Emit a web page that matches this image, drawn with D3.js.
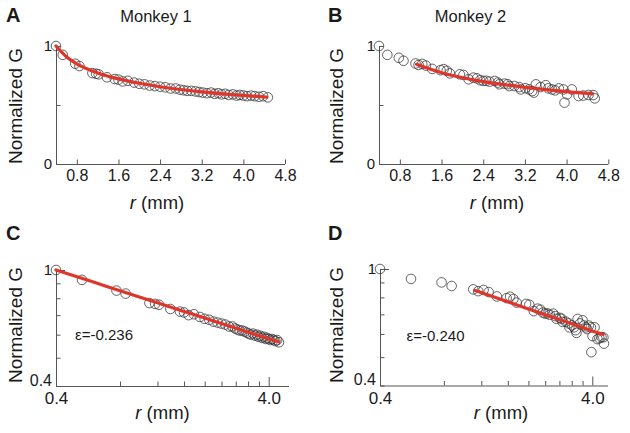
<!DOCTYPE html>
<html><head><meta charset="utf-8">
<script src="https://cdn.jsdelivr.net/npm/d3@7"></script>
<style>
body{margin:0;background:#fff}
svg{display:block}
text{font-family:"Liberation Sans",Arial,sans-serif;fill:#1a1a1a}
</style>
</head><body>
<svg id="c" width="630" height="433"></svg>
<script>
// ---------- data ----------
const m1R = [0.40,0.53,0.77,0.85,1.10,1.17,1.22,1.38,1.53,1.60,1.68,1.78,1.90,2.00,2.10,2.20,2.30,2.40,2.50,2.60,2.70,2.78,2.85,2.92,3.00,3.08,3.15,3.22,3.30,3.38,3.45,3.52,3.58,3.65,3.72,3.80,3.87,3.93,4.00,4.07,4.15,4.22,4.30,4.38,4.47];
const m1G = [1.00,0.925,0.85,0.83,0.77,0.765,0.76,0.735,0.72,0.715,0.70,0.705,0.69,0.68,0.675,0.665,0.66,0.655,0.65,0.64,0.64,0.63,0.625,0.62,0.62,0.615,0.61,0.605,0.60,0.605,0.595,0.60,0.59,0.595,0.585,0.59,0.58,0.585,0.58,0.575,0.58,0.575,0.57,0.575,0.565];
const m1FitR = [0.40,0.60,0.80,1.20,1.60,2.00,2.40,3.20,4.00,4.45];
const m1FitG = [1.00,0.909,0.849,0.772,0.721,0.684,0.655,0.612,0.581,0.567];

const m2R = [0.40,0.56,0.78,0.87,1.10,1.16,1.23,1.30,1.42,1.58,1.64,1.70,1.76,1.95,2.02,2.12,2.21,2.28,2.34,2.40,2.46,2.52,2.62,2.68,2.71,2.81,2.87,2.90,3.00,3.09,3.12,3.21,3.28,3.34,3.37,3.41,3.50,3.60,3.65,3.72,3.78,3.85,3.94,3.96,4.01,4.10,4.23,4.32,4.42,4.51,4.54];
const m2G = [1.00,0.925,0.90,0.875,0.852,0.84,0.848,0.834,0.806,0.795,0.804,0.79,0.768,0.76,0.755,0.718,0.732,0.726,0.71,0.704,0.705,0.698,0.704,0.69,0.676,0.681,0.676,0.66,0.661,0.652,0.632,0.642,0.632,0.618,0.605,0.675,0.652,0.668,0.641,0.632,0.624,0.641,0.632,0.52,0.59,0.632,0.576,0.58,0.585,0.584,0.556];
const m2FitR = [1.12,1.60,2.40,3.20,4.00,4.50];
const m2FitG = [0.845,0.773,0.698,0.650,0.614,0.597];

const linXTicks = [0.8,1.6,2.4,3.2,4.0,4.8];
const linXLabels = ["0.8","1.6","2.4","3.2","4.0","4.8"];
const linYTicks = [0,0.5,1];
const linYLabels = ["0","","1"];
const logXTicks = [0.4,0.8,1.2,1.6,2.0,2.4,2.8,3.2,3.6,4.0];
const logXLabels = ["0.4","","","","","","","","","4.0"];
const logYTicks = [0.4,0.5,0.6,0.7,0.8,0.9,1.0];
const logYLabels = ["0.4","","","","","","1"];
const letters = ["A","B","C","D"];
const titles = ["Monkey 1","Monkey 2"];
const epsLabels = ["ε=-0.236","ε=-0.240"];

// ---------- drawing ----------
const svg = d3.select("#c");
const RED = "#e0352b", AX = "#555";

function panel(o){
  const g = svg.append("g");
  const x = (o.log ? d3.scaleLog() : d3.scaleLinear()).domain(o.xd).range(o.xr);
  const y = (o.log ? d3.scaleLog() : d3.scaleLinear()).domain(o.yd).range(o.yr);
  // x axis
  const xa = g.append("g").attr("transform",`translate(0,${o.yr[0]})`)
    .call(d3.axisBottom(x).tickValues(o.xt).tickFormat((d,i)=>o.xl[i]).tickSize(-4.5).tickPadding(6));
  xa.select(".domain").remove();
  xa.selectAll("line").attr("stroke",AX);
  xa.selectAll("text").style("font-size",o.xfs+"px").attr("fill","#1a1a1a");
  if(o.log){ xa.selectAll(".tick line").filter((d,i)=>o.xl[i]!=="").attr("y2",-9); }
  g.append("line").attr("x1",o.xr[0]).attr("x2",o.xEnd).attr("y1",o.yr[0]+0.5).attr("y2",o.yr[0]+0.5).attr("stroke",AX);
  // y axis
  const ya = g.append("g").attr("transform",`translate(${o.xr[0]},0)`)
    .call(d3.axisLeft(y).tickValues(o.yt).tickFormat((d,i)=>o.yl[i]).tickSize(-4.5).tickPadding(4));
  ya.select(".domain").remove();
  ya.selectAll("line").attr("stroke",AX);
  ya.selectAll("text").style("font-size",o.yfs+"px").attr("fill","#1a1a1a");
  if(o.log){
    ya.selectAll(".tick line").filter((d,i)=>o.yl[i]==="1").attr("x2",9);
    ya.selectAll(".tick text").filter((d,i)=>o.yl[i]==="0.4").attr("dy","-0.05em").style("font-size","16px");
  }
  g.append("line").attr("x1",o.xr[0]+0.5).attr("x2",o.xr[0]+0.5).attr("y1",o.yr[1]).attr("y2",o.yr[0]).attr("stroke",AX);
  // points
  g.append("g").selectAll("circle").data(o.r.map((r,i)=>[r,o.gv[i]])).join("circle")
    .attr("cx",d=>x(d[0])).attr("cy",d=>y(d[1])).attr("r",4.8)
    .attr("fill","none").attr("stroke","#333").attr("stroke-width",0.9).attr("stroke-opacity",0.85);
  // fit
  g.append("path").datum(o.fr.map((r,i)=>[r,o.fg[i]]))
    .attr("d",d3.line().x(d=>x(d[0])).y(d=>y(d[1])).curve(d3.curveMonotoneX))
    .attr("fill","none").attr("stroke",RED).attr("stroke-width",3.2).attr("stroke-linecap","round");
  // labels
  g.append("text").attr("x",o.lx).attr("y",o.ly).text(o.letter)
    .style("font-size","20px").style("font-weight","bold").attr("fill","#000");
  if(o.title) g.append("text").attr("x",o.tx).attr("y",22).attr("text-anchor","middle")
    .style("font-size","16.5px").text(o.title);
  g.append("text").attr("transform",`translate(${o.yx},${o.ycy}) rotate(-90)`)
    .attr("text-anchor","middle").style("font-size","19px").text("Normalized G");
  const xt = g.append("text").attr("x",o.xlx).attr("y",o.xly).attr("text-anchor","middle").style("font-size","18.5px");
  xt.append("tspan").style("font-style","italic").text("r");
  xt.append("tspan").text(" (mm)");
  if(o.eps) g.append("text").attr("x",o.ex).attr("y",o.ey).style("font-size","15px").text(o.eps);
}

panel({log:false,xd:[0.4,4.8],xr:[56,285],xEnd:285,yd:[0,1],yr:[164,46],xt:linXTicks,xl:linXLabels,yt:linYTicks,yl:linYLabels,
  xfs:16,yfs:15,r:m1R,gv:m1G,fr:m1FitR,fg:m1FitG,letter:letters[0],lx:6,ly:22,title:titles[0],tx:156,
  yx:21.5,ycy:106,xlx:157,xly:209});
panel({log:false,xd:[0.4,4.8],xr:[379,608.3],xEnd:608.3,yd:[0,1],yr:[164,46],xt:linXTicks,xl:linXLabels,yt:linYTicks,yl:linYLabels,
  xfs:16,yfs:15,r:m2R,gv:m2G,fr:m2FitR,fg:m2FitG,letter:letters[1],lx:328,ly:22,title:titles[1],tx:470.5,
  yx:343,ycy:106,xlx:497,xly:209});
panel({log:true,xd:[0.4,4.0],xr:[56,268.7],xEnd:289,yd:[0.4,1],yr:[386,270],xt:logXTicks,xl:logXLabels,yt:logYTicks,yl:logYLabels,
  xfs:17,yfs:15,r:m1R,gv:m1G,fr:m1FitR,fg:m1FitG,letter:letters[2],lx:6,ly:240,
  yx:21.5,ycy:325,xlx:162.5,xly:419,eps:epsLabels[0],ex:75,ey:340});
panel({log:true,xd:[0.4,4.0],xr:[380,592.3],xEnd:608,yd:[0.4,1],yr:[385.5,269],xt:logXTicks,xl:logXLabels,yt:logYTicks,yl:logYLabels,
  xfs:17,yfs:15,r:m2R,gv:m2G,fr:m2FitR,fg:m2FitG,letter:letters[3],lx:328,ly:240,
  yx:343,ycy:325,xlx:501,xly:419,eps:epsLabels[1],ex:406.5,ey:341});
</script>
</body></html>
